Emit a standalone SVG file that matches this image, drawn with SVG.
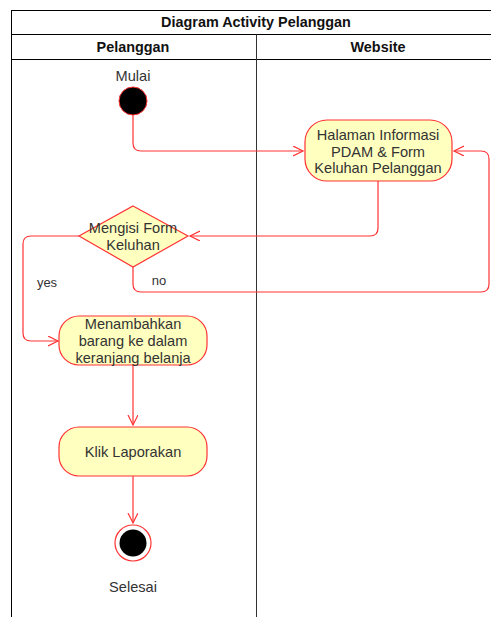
<svg xmlns="http://www.w3.org/2000/svg" width="491" height="617" viewBox="0 0 491 617">
<defs>
<style>
text{font-family:"Liberation Sans",Arial,sans-serif;font-size:14.6px;fill:#333;text-anchor:middle}
.hdr{font-weight:bold;fill:#111;font-size:14.4px}
.act{fill:#ffffc0;stroke:#ff3333;stroke-width:1.2}
.edge{fill:none;stroke:#ff3333;stroke-width:1.2}
.lane{fill:none;stroke:#000;stroke-width:1}
</style>
<marker id="arr" markerWidth="12" markerHeight="12" refX="10" refY="5" orient="auto" markerUnits="userSpaceOnUse">
<path d="M0,0 L10,5 L0,10" fill="none" stroke="#ff3333" stroke-width="1.2"/>
</marker>
</defs>
<rect width="491" height="617" fill="#fff"/>
<g id="pool">
<rect class="lane" x="11.5" y="10.5" width="490" height="620"/>
<line class="lane" x1="11.5" y1="34.5" x2="501.5" y2="34.5"/>
<line class="lane" x1="11.5" y1="59.5" x2="501.5" y2="59.5"/>
<line x1="256.5" y1="34.5" x2="256.5" y2="620" stroke="#333" stroke-width="1"/>
<text class="hdr" x="256" y="27">Diagram Activity Pelanggan</text>
<text class="hdr" x="133" y="52">Pelanggan</text>
<text class="hdr" x="378" y="52">Website</text>
</g>
<g id="connectors">
<path class="edge" d="M133,115 V143 Q133,151 141,151 H303" marker-end="url(#arr)"/>
<path class="edge" d="M378,181 V228 Q378,236 370,236 H190" marker-end="url(#arr)"/>
<path class="edge" d="M133,267 V284 Q133,292 141,292 H481 Q489,292 489,284 V159 Q489,151 481,151 H454" marker-end="url(#arr)"/>
<path class="edge" d="M79,236 H31 Q23,236 23,244 V333 Q23,341 31,341 H58" marker-end="url(#arr)"/>
<path class="edge" d="M133,365 V425" marker-end="url(#arr)"/>
<path class="edge" d="M133,476 V523" marker-end="url(#arr)"/>
<text x="47" y="287" style="font-size:13px">yes</text>
<text x="159" y="285" style="font-size:13px">no</text>
</g>
<g id="start">
<circle cx="133" cy="101" r="14" fill="#000" stroke="#ff3333" stroke-width="1"/>
<text x="133" y="81">Mulai</text>
</g>
<g id="halaman">
<rect class="act" x="305" y="120" width="147" height="61" rx="22"/>
<text x="378" y="140">Halaman Informasi</text>
<text x="378" y="157">PDAM &amp; Form</text>
<text x="378" y="173">Keluhan Pelanggan</text>
</g>
<g id="decision">
<polygon class="act" points="133,206 188,236 133,267 79,236"/>
<text x="133" y="233">Mengisi Form</text>
<text x="133" y="250">Keluhan</text>
</g>
<g id="menambahkan">
<rect class="act" x="59" y="316" width="148" height="49" rx="20"/>
<text x="133" y="329">Menambahkan</text>
<text x="133" y="346">barang ke dalam</text>
<text x="133" y="363">keranjang belanja</text>
</g>
<g id="klik">
<rect class="act" x="59" y="427" width="148" height="49" rx="20"/>
<text x="133" y="456.5">Klik Laporakan</text>
</g>
<g id="end">
<circle cx="133" cy="543" r="18" fill="#fff" stroke="#ff3333" stroke-width="1.2"/>
<circle cx="133" cy="543" r="13.5" fill="#000"/>
<text x="133" y="591.5">Selesai</text>
</g>
</svg>
